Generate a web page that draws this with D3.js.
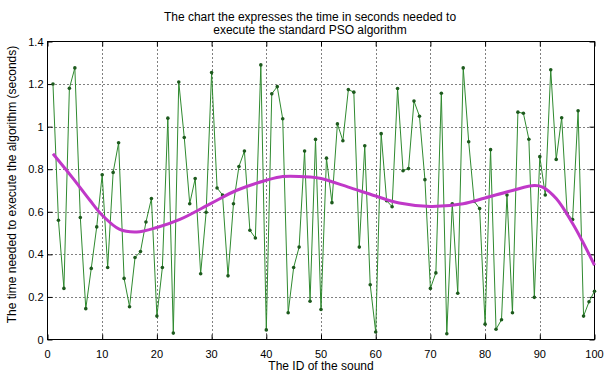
<!DOCTYPE html>
<html lang="en">
 <head>
  <meta http-equiv="Content-Type" content="text/html; charset=UTF-8">
  <title>PSO execution time</title>
  <script type="text/javascript" src="https://unpkg.com/d3@7/dist/d3.min.js"></script>
  <style type="text/css">
    body { margin: 0; background: #ffffff; }
    text { font-family: "Liberation Sans", Arial, sans-serif; fill: #000; }
  </style>
 </head>
 <body>
  <script type="text/javascript">

    // execution time (seconds) for sound IDs 1..100
    var times = [
      1.20, 0.56, 0.24, 1.18, 1.276, 0.573, 0.145, 0.334, 0.529, 0.774,
      0.338, 0.785, 0.924, 0.287, 0.154, 0.385, 0.413, 0.552, 0.662, 0.110,
      0.338, 1.04, 0.03, 1.21, 0.949, 0.638, 0.756, 0.309, 0.598, 1.254,
      0.712, 0.679, 0.299, 0.638, 0.813, 0.885, 0.513, 0.477, 1.29, 0.045,
      1.154, 1.188, 1.037, 0.126, 0.338, 0.434, 0.885, 0.18, 0.94, 0.141,
      0.852, 0.643, 1.013, 0.934, 1.174, 1.162, 0.434, 0.910, 0.257, 0.035,
      0.967, 0.652, 0.624, 1.179, 0.793, 0.803, 1.12, 1.049, 0.751, 0.24,
      0.313, 1.157, 0.027, 0.638, 0.217, 1.276, 0.929, 0.649, 0.615, 0.072,
      0.892, 0.048, 0.093, 0.679, 0.126, 1.068, 1.063, 0.941, 0.198, 0.859,
      0.679, 1.267, 0.846, 1.042, 0.592, 0.564, 1.075, 0.110, 0.177, 0.227
    ];
    var soundIds = d3.range(1, times.length + 1);

    // magenta trend curve
    var trendX = [1, 4.7, 7.75, 10, 13.2, 16.3, 20, 24.2, 30, 34.5, 40, 43, 48, 50,
                  55, 60, 64.3, 70, 76, 80, 85, 89, 90.5, 93, 96, 98, 100];
    var trendY = [0.873, 0.756, 0.654, 0.584, 0.517, 0.505, 0.526, 0.564, 0.641, 0.70,
                  0.748, 0.766, 0.763, 0.756, 0.716, 0.674, 0.641, 0.625, 0.638, 0.665,
                  0.70, 0.723, 0.716, 0.662, 0.545, 0.451, 0.349];

    var xTicks = [0, 10, 20, 30, 40, 50, 60, 70, 80, 90, 100];
    var yTicks = [0, 0.2, 0.4, 0.6, 0.8, 1, 1.2, 1.4];

    var titleLines = ["The chart the expresses the time in seconds needed to",
                      "execute the standard PSO algorithm"];
    var xLabel = "The ID of the sound";
    var yLabel = "The time needed to execute the algorithm (seconds)";

    var ancho = 604;
    var alto = 374;
    var izq = 47.5, der = 594.5, arriba = 41.5, abajo = 339.5;

    var svg = d3.select("body")
                .append("svg")
                .attr("width", ancho)
                .attr("height", alto);

    var escalaX = d3.scaleLinear().domain([0, 100]).range([izq, der]);
    var escalaY = d3.scaleLinear().domain([0, 1.4]).range([abajo, arriba]);

    // dotted grid
    svg.selectAll("line.gridX")
       .data(xTicks.slice(1, -1))
       .enter()
       .append("line")
       .attr("class", "gridX")
       .attr("x1", (d) => Math.round(escalaX(d)) + 0.5)
       .attr("x2", (d) => Math.round(escalaX(d)) + 0.5)
       .attr("y1", arriba)
       .attr("y2", abajo)
       .attr("stroke", "#000")
       .attr("stroke-width", 1)
       .attr("stroke-dasharray", "1,3");

    svg.selectAll("line.gridY")
       .data(yTicks.slice(1, -1))
       .enter()
       .append("line")
       .attr("class", "gridY")
       .attr("x1", izq)
       .attr("x2", der)
       .attr("y1", (d) => Math.round(escalaY(d)) + 0.5)
       .attr("y2", (d) => Math.round(escalaY(d)) + 0.5)
       .attr("stroke", "#000")
       .attr("stroke-width", 1)
       .attr("stroke-dasharray", "1,3");

    // axes, ticks pointing inward, mirrored on top and right
    var ejeAbajo = d3.axisTop(escalaX).tickValues(xTicks).tickSize(5).tickFormat("");
    var ejeArriba = d3.axisBottom(escalaX).tickValues(xTicks).tickSize(5).tickFormat("");
    var ejeIzq = d3.axisRight(escalaY).tickValues(yTicks).tickSize(5).tickFormat("");
    var ejeDer = d3.axisLeft(escalaY).tickValues(yTicks).tickSize(5).tickFormat("");

    svg.append("g").attr("transform", "translate(0," + abajo + ")").call(ejeAbajo);
    svg.append("g").attr("transform", "translate(0," + arriba + ")").call(ejeArriba);
    svg.append("g").attr("transform", "translate(" + izq + ",0)").call(ejeIzq);
    svg.append("g").attr("transform", "translate(" + der + ",0)").call(ejeDer);
    svg.selectAll(".domain").remove();
    svg.selectAll(".tick line").attr("stroke", "#000");

    svg.append("rect")
       .attr("x", izq)
       .attr("y", arriba)
       .attr("width", der - izq)
       .attr("height", abajo - arriba)
       .attr("fill", "none")
       .attr("stroke", "#000")
       .attr("stroke-width", 1);

    // tick labels
    svg.selectAll("text.xTick")
       .data(xTicks)
       .enter()
       .append("text")
       .attr("class", "xTick")
       .attr("x", (d) => escalaX(d))
       .attr("y", abajo + 18)
       .attr("text-anchor", "middle")
       .attr("font-size", "11px")
       .text((d) => d);

    svg.selectAll("text.yTick")
       .data(yTicks)
       .enter()
       .append("text")
       .attr("class", "yTick")
       .attr("x", izq - 4)
       .attr("y", (d) => escalaY(d) + 4)
       .attr("text-anchor", "end")
       .attr("font-size", "11px")
       .text((d) => d);

    // green series
    var linea = d3.line()
                  .x((d, i) => escalaX(soundIds[i]))
                  .y((d) => escalaY(d));

    svg.append("path")
       .datum(times)
       .attr("d", linea)
       .attr("fill", "none")
       .attr("stroke", "#2f8a2f")
       .attr("stroke-width", 1);

    svg.selectAll("circle.punto")
       .data(times)
       .enter()
       .append("circle")
       .attr("class", "punto")
       .attr("cx", (d, i) => escalaX(soundIds[i]))
       .attr("cy", (d) => escalaY(d))
       .attr("r", 1.8)
       .attr("fill", "#1d5a1d");

    // magenta trend
    var curva = d3.line()
                  .x((d, i) => escalaX(trendX[i]))
                  .y((d) => escalaY(d))
                  .curve(d3.curveCatmullRom);

    svg.append("path")
       .datum(trendY)
       .attr("d", curva)
       .attr("fill", "none")
       .attr("stroke", "#c038c8")
       .attr("stroke-width", 3);

    // titles
    svg.selectAll("text.title")
       .data(titleLines)
       .enter()
       .append("text")
       .attr("class", "title")
       .attr("x", 310)
       .attr("y", (d, i) => 21 + i * 13)
       .attr("text-anchor", "middle")
       .attr("font-size", "12px")
       .text((d) => d);

    svg.append("text")
       .attr("x", (izq + der) / 2)
       .attr("y", 370)
       .attr("text-anchor", "middle")
       .attr("font-size", "12px")
       .text(xLabel);

    svg.append("text")
       .attr("transform", "translate(16," + ((arriba + abajo) / 2 - 6) + ") rotate(-90)")
       .attr("text-anchor", "middle")
       .attr("font-size", "12px")
       .text(yLabel);

  </script>
 </body>
</html>
